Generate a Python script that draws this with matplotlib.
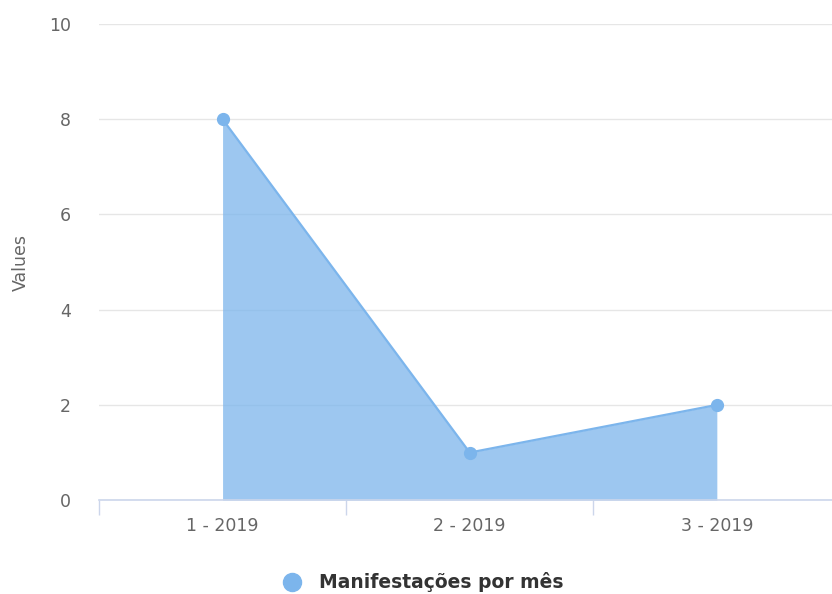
import numpy as np
import matplotlib
matplotlib.use("Agg")
import matplotlib.pyplot as plt
from matplotlib.lines import Line2D

# data
categories = ["1 - 2019", "2 - 2019", "3 - 2019"]
values = [8, 1, 2]
series_name = "Manifestações por mês"
yticks = [0, 2, 4, 6, 8, 10]

line_color = "#7cb5ec"
grid_color = "#e6e6e6"
axis_color = "#ccd6eb"
label_color = "#666666"

fig = plt.figure(figsize=(8.32, 5.94), dpi=100, facecolor="w")
ax = fig.add_axes([0.119, 0.158, 0.881, 0.8016])

x = np.arange(len(categories))
ax.fill_between(x, values, 0, color=line_color, alpha=0.75, linewidth=0, zorder=2)
ax.plot(x, values, color=line_color, linewidth=1.6, marker="o", markersize=8.5, zorder=3)

# y axis / grid
ax.set_yticks(yticks)
ax.set_ylim(0, 10)
ax.yaxis.grid(True, color=grid_color, linewidth=1.0, zorder=0)
ax.set_axisbelow(True)
ax.tick_params(axis="y", length=0, pad=20, labelsize=12.5, labelcolor=label_color)
ax.set_ylabel("Values", fontsize=12.5, color=label_color, labelpad=14)

# x axis, ticks between categories
ax.set_xticks(x)
ax.set_xticklabels(categories)
ax.set_xticks([-0.5, 0.5, 1.5, 2.5], minor=True)
ax.set_xlim(-0.5, 2.466)
ax.tick_params(axis="x", which="major", length=0, pad=12, labelsize=12.5, labelcolor=label_color)
ax.tick_params(axis="x", which="minor", length=11, color=axis_color, width=1)

for s in ["top", "right", "left"]:
    ax.spines[s].set_visible(False)
ax.spines["bottom"].set_color(axis_color)
ax.spines["bottom"].set_linewidth(1.2)

# legend
handle = Line2D([], [], color=line_color, marker="o", linestyle="None", markersize=13)
leg = fig.legend([handle], [series_name], loc="center", bbox_to_anchor=(0.503, 0.02),
                 frameon=False, handletextpad=0.4, prop={"weight": "bold", "size": 13.5})
for t in leg.get_texts():
    t.set_color("#333333")

plt.savefig("out.png", dpi=100)
